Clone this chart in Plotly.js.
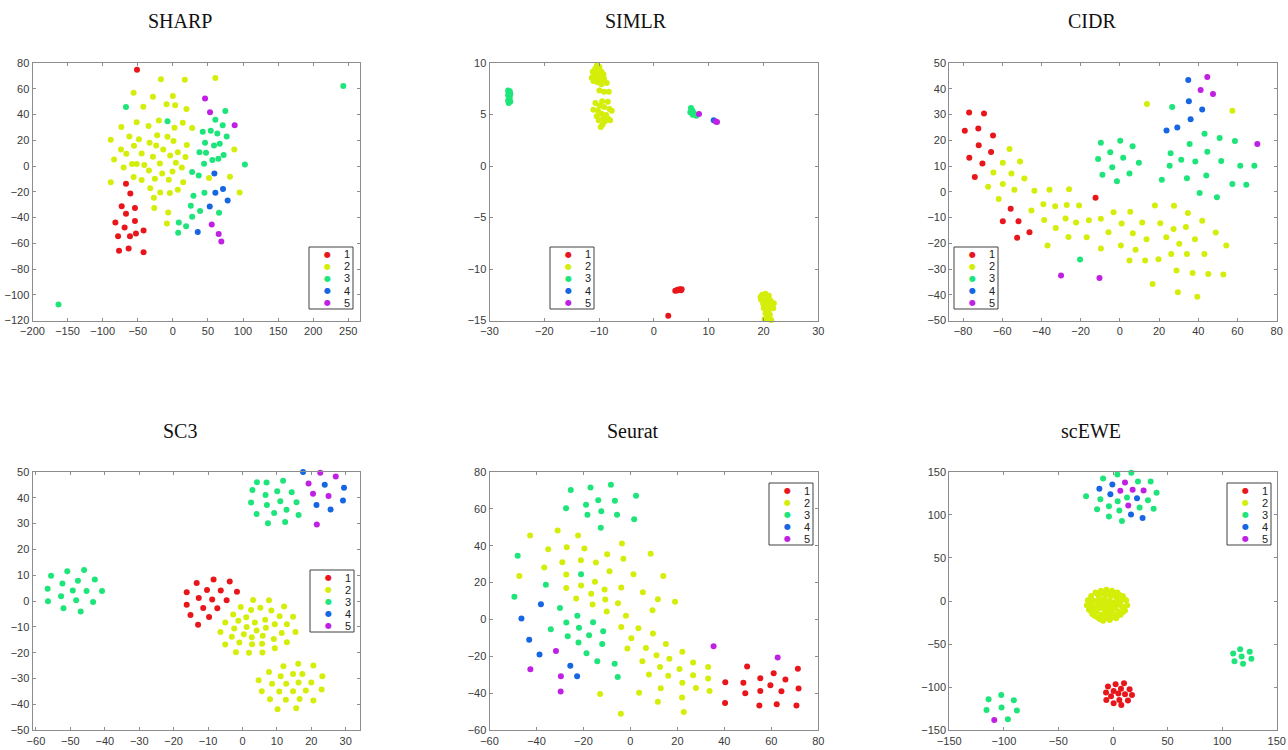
<!DOCTYPE html>
<html><head><meta charset="utf-8">
<script src="https://cdn.plot.ly/plotly-3.0.1.min.js"></script>
<style>html,body{margin:0;padding:0;background:#fff}#chart{width:1288px;height:750px}</style>
</head><body><div id="chart"></div>
<script>
const clusterLabels = ['1','2','3','4','5'];
const clusterColors = ['#e8161b','#d4ee0a','#1de57a','#1665e3','#c01fe4'];
const panelTitles = ['SHARP','SIMLR','CIDR','SC3','Seurat','scEWE'];

// ---------- SHARP ----------
const SHARP_1 = [[-51.1,74.8],[-66.8,-13.8],[-60.6,-21.3],[-72.9,-31.2],[-54.0,-32.7],[-66.8,-37.1],[-81.9,-43.9],[-54.0,-42.8],[-68.7,-47.7],[-41.7,-50.1],[-78.1,-54.5],[-61.1,-54.5],[-52.6,-52.4],[-76.7,-65.9],[-63.0,-64.0],[-41.7,-66.9]];
const SHARP_2 = [[-17.0,67.3],[17.0,67.0],[60.6,68.3],[-55.9,56.9],[-28.4,53.8],[0,54.4],[-42.1,46.1],[-9.0,47.9],[3.3,47.2],[19.4,44.3],[-73.4,30.3],[-51.6,33.9],[-34.6,31.0],[-19.9,35.4],[2.4,29.7],[14.2,33.6],[27.5,29.5],[-88.5,20.4],[-62.0,23.0],[-48.3,20.7],[-22.3,23.8],[-7.6,22.7],[0.9,19.4],[19.9,16.3],[-73.9,12.9],[-55.4,15.8],[-33.1,18.1],[-23.7,16.0],[-13.7,12.9],[-44.5,9.8],[-66.3,9.5],[-28.4,7.2],[7.1,10.6],[-3.8,8.2],[18.0,6.9],[-83.8,5.1],[-58.2,1.5],[-51.6,1.5],[-40.7,0.7],[-18.5,2.0],[4.3,2.5],[-70.1,-1.1],[12.8,-1.1],[-34.1,-3.4],[-15.2,-5.8],[-0.5,-4.2],[-55.9,-8.6],[-25.6,-9.9],[-44.5,-10.9],[-5.7,-10.7],[51.6,-9.4],[81.4,-8.3],[-88.5,-12.7],[14.7,-12.7],[-32.2,-17.2],[-18.0,-20.5],[-4.3,-21.0],[95.2,-20.5],[-27.0,-24.7],[7.1,-18.4],[-26.5,-32.7],[-6.6,-36.1],[-8.5,-44.6],[87.6,12.9]];
const SHARP_3 = [[-66.8,45.8],[-7.6,34.7],[74.8,42.7],[60.6,36.0],[71.0,31.6],[42.6,26.6],[54.0,27.4],[63.4,25.3],[76.7,23.0],[45.9,18.1],[58.7,16.0],[66.8,17.3],[37.9,10.6],[47.3,10.3],[72.4,8.5],[56.3,4.6],[64.9,5.6],[44.5,1.8],[102.7,1.2],[27.5,-4.7],[36.9,-7.3],[29.4,-23.1],[45.0,-20.8],[25.6,-30.9],[38.8,-35.0],[27.5,-39.4],[65.8,-36.3],[8.5,-43.8],[18.9,-46.7],[7.6,-51.9],[-162.9,-107.6],[242.9,62.1]];
const SHARP_4 = [[59.2,-5.8],[71.5,-17.9],[60.6,-20.8],[78.1,-26.7],[52.6,-31.4],[35.5,-51.3]];
const SHARP_5 = [[45.9,52.5],[53.0,41.7],[88.1,31.6],[55.4,-45.4],[65.3,-52.9],[69.1,-58.6]];

// ---------- SIMLR ----------
const SIMLR_1 = [[2.62,-14.55],[3.90,-12.12],[4.33,-12.02],[4.70,-11.96],[5.06,-11.96],[4.21,-12.09],[4.94,-12.06]];
const SIMLR_2 = [[-10.43,9.74],[-9.94,9.61],[-10.73,9.42],[-10.12,9.29],[-11.16,9.16],[-10.43,9.03],[-9.57,9.16],[-10.91,8.83],[-10.06,8.77],[-9.21,8.90],[-11.34,8.58],[-10.55,8.51],[-9.82,8.38],[-9.09,8.45],[-11.04,8.25],[-8.60,8.06],[-10.30,8.12],[-9.57,7.93],[-9.94,7.34],[-9.09,7.22],[-8.23,7.22],[-10.67,6.11],[-9.45,6.28],[-8.41,6.24],[-9.94,5.85],[-9.09,5.73],[-11.04,5.47],[-10.18,5.34],[-8.11,5.53],[-7.68,5.37],[-9.57,5.08],[-8.72,4.95],[-10.43,4.82],[-9.21,4.66],[-8.35,4.59],[-10.06,4.43],[-8.96,4.33],[-7.99,4.43],[-9.39,4.01],[-9.70,3.78],
  [19.76,-12.51],[20.37,-12.41],[20.98,-12.60],[19.57,-12.99],[20.55,-12.93],[21.28,-13.06],[19.94,-13.38],[20.79,-13.48],[21.59,-13.57],[20.06,-13.80],[20.98,-13.96],[21.77,-13.80],[20.37,-14.29],[21.16,-14.45],[20.67,-14.77],[20.18,-14.87],[21.40,-14.94],[19.45,-12.73],[21.89,-13.32],[20.91,-13.25]];
const SIMLR_3 = [[-26.6,7.34],[-26.3,7.25],[-26.5,7.09],[-26.2,6.99],[-26.6,6.86],[-26.3,6.70],[-26.4,6.50],[-26.6,6.37],[-26.2,6.27],[-26.5,6.11],
  [6.77,5.63],[7.01,5.40],[6.65,5.21],[7.26,5.14],[7.74,4.88],[7.07,4.98]];
const SIMLR_4 = [[10.91,4.43]];
const SIMLR_5 = [[8.23,5.05],[11.28,4.33],[11.52,4.27]];

// ---------- CIDR ----------
const CIDR_1 = [[-76.9,30.8],[-69.3,30.4],[-79.1,23.7],[-72.2,24.6],[-64.7,21.8],[-72.0,18.1],[-65.7,15.4],[-76.8,13.2],[-70.1,11.0],[-74.0,5.7],[-55.7,-6.6],[-59.7,-11.5],[-51.7,-11.5],[-46.1,-15.7],[-52.4,-17.9],[-12.4,-2.3]];
const CIDR_2 = [[-56.3,16.6],[-59.7,11.3],[-50.9,11.7],[-64.5,7.5],[-55.3,7.1],[-48.7,5.1],[-67.2,1.9],[-59.7,3.0],[-53.8,0.8],[-43.6,0.4],[-35.9,0.8],[-25.9,1.0],[-61.8,-2.8],[-45.1,-7.3],[-39.0,-4.9],[-33.0,-5.6],[-27.1,-5.1],[-20.8,-5.3],[-38.6,-11.0],[-32.7,-14.1],[-27.7,-10.4],[-22.3,-11.9],[-15.8,-11.1],[-26.2,-17.6],[-16.9,-17.7],[-36.9,-20.9],[-9.7,-10.5],[-5.8,-15.7],[-3.2,-8.0],[0.9,-12.3],[5.3,-7.8],[6.6,-16.1],[-9.7,-22.0],[0.5,-20.9],[8.0,-22.5],[4.9,-26.7],[11.4,-11.9],[13.6,-18.4],[12.9,-26.7],[17.9,-5.3],[20.6,-12.2],[19.7,-26.2],[23.7,-17.7],[26.2,-24.2],[27.4,-14.5],[27.6,-5.4],[30.3,-20.2],[28.9,-30.6],[33.7,-13.7],[34.7,-8.3],[34.2,-24.2],[37.1,-31.6],[38.3,-18.4],[42.0,-11.3],[43.1,-24.2],[45.1,-31.9],[48.9,-15.8],[52.8,-32.1],[54.3,-20.9],[16.7,-35.8],[29.6,-39.0],[39.5,-40.8],[13.8,34.1],[57.4,31.5]];
const CIDR_3 = [[-9.7,19.0],[0.2,19.8],[6.5,17.7],[-11.1,12.7],[-4.9,15.3],[1.7,13.2],[9.7,11.3],[-3.9,9.5],[-8.9,6.6],[4.9,7.1],[-1.5,4.1],[-20.3,-26.3],[26.7,32.9],[25.9,15.0],[25.4,10.1],[31.3,12.4],[35.6,18.5],[38.5,11.7],[43.2,22.5],[44.6,15.5],[50.9,20.9],[51.7,11.9],[58.7,19.7],[61.4,10.1],[68.6,10.1],[21.4,4.7],[34.2,5.2],[44.1,6.3],[40.7,-0.5],[49.5,-2.1],[57.4,3.0],[64.5,2.7]];
const CIDR_4 = [[34.9,43.4],[35.2,35.1],[42.0,31.9],[36.1,28.2],[29.3,25.0],[23.8,23.8]];
const CIDR_5 = [[44.6,44.6],[41.2,39.5],[47.5,38.0],[70.1,18.5],[-30.0,-32.5],[-10.4,-33.5]];

// ---------- SC3 ----------
const SC3_1 = [[-13.3,7.0],[-8.4,8.3],[-3.7,7.6],[-16.2,3.4],[-10.3,4.3],[-6.3,4.1],[-1.6,3.6],[-12.7,1.2],[-8.8,0.6],[-4.6,0.3],[-16.2,-1.4],[-11.4,-2.7],[-7.3,-2.8],[-15.1,-5.4],[-9.7,-6.2],[-12.9,-9.2]];
const SC3_2 = [[3.1,0.4],[7.7,0.3],[-0.5,-2.3],[5.2,-2.6],[12.1,-2.1],[-2.7,-5.2],[2.5,-3.5],[8.4,-3.7],[10.8,-5.9],[14.7,-6.1],[1.1,-6.3],[-5.0,-8.3],[-1.2,-7.6],[3.6,-8.3],[6.6,-7.2],[9.4,-9.0],[12.9,-9.0],[-2.4,-10.6],[1.2,-10.0],[4.1,-11.4],[0.4,-12.8],[6.8,-10.3],[11.4,-12.4],[15.4,-12.0],[-6.4,-12.0],[-3.1,-13.8],[2.7,-14.0],[5.9,-13.4],[9.1,-14.7],[-5.0,-16.8],[-0.9,-16.0],[2.8,-16.7],[5.7,-16.5],[12.9,-15.9],[1.9,-20.0],[5.8,-19.9],[9.4,-18.3],[-1.9,-19.8],
  [11.9,-25.2],[16.2,-24.3],[20.6,-24.9],[7.7,-27.4],[17.4,-28.2],[23.2,-29.1],[11.1,-29.1],[14.7,-28.2],[4.7,-30.6],[8.6,-32.0],[12.7,-32.0],[16.3,-31.5],[20.0,-31.5],[5.6,-34.9],[10.7,-35.0],[14.7,-34.9],[18.4,-34.6],[23.0,-34.2],[8.0,-38.0],[12.6,-38.2],[16.6,-37.9],[20.6,-38.5],[10.2,-41.9],[15.6,-41.5]];
const SC3_3 = [[-55.6,9.8],[-50.9,11.5],[-46.0,12.0],[-52.3,6.8],[-47.8,7.9],[-42.9,8.3],[-56.6,4.8],[-49.3,4.1],[-45.3,3.9],[-40.8,3.9],[-52.7,1.9],[-48.3,0.3],[-43.4,-0.4],[-56.5,-0.1],[-52.0,-2.8],[-47.0,-4.0],
  [4.2,46.0],[7.0,45.9],[11.8,46.5],[2.9,43.0],[10.1,42.5],[14.3,42.1],[6.7,41.0],[11.0,38.6],[15.7,38.2],[2.5,38.1],[7.1,37.2],[12.8,35.3],[4.1,33.7],[9.2,34.1],[16.3,33.3],[7.4,30.1],[12.4,30.6]];
const SC3_4 = [[17.6,49.9],[23.9,45.0],[29.5,43.8],[21.5,37.2],[29.2,38.9],[25.6,35.4]];
const SC3_5 = [[22.6,49.6],[27.1,48.2],[19.2,45.5],[20.5,41.5],[25.0,40.6],[21.6,29.6]];

// ---------- Seurat ----------
const SEURAT_1 = [[49.7,-25.5],[71.3,-26.6],[40.4,-34.0],[48.1,-34.2],[55.3,-31.8],[61.0,-29.1],[66.0,-32.5],[59.6,-35.6],[55.3,-38.7],[48.9,-39.9],[64.3,-38.9],[71.6,-37.4],[40.3,-45.2],[54.9,-46.6],[62.3,-45.9],[70.7,-46.6]];
const SEURAT_2 = [[-42.7,45.5],[-31.0,48.2],[-22.3,45.5],[-35.0,38.1],[-27.1,39.2],[-19.6,38.5],[-3.6,41.2],[-36.7,28.2],[-29.0,31.0],[-21.1,32.1],[-14.7,30.9],[-9.9,35.4],[-3.0,32.9],[8.6,35.6],[-47.3,23.5],[-27.3,24.4],[-8.9,26.2],[1.3,24.5],[14.0,23.6],[-27.3,17.1],[-21.0,18.4],[-15.1,20.4],[-11.0,16.2],[-3.9,17.3],[5.3,14.8],[-23.1,11.4],[-16.7,13.9],[-10.7,10.8],[-16.1,8.1],[-10.1,4.3],[-5.3,8.8],[11.7,11.0],[19.0,9.6],[9.4,5.0],[-1.9,2.1],[-3.9,-4.0],[3.4,-4.7],[0.4,-10.1],[9.6,-7.6],[-1.3,-15.7],[6.6,-15.4],[15.1,-13.2],[11.1,-19.4],[16.6,-21.3],[22.1,-17.5],[5.1,-22.6],[12.6,-25.7],[20.9,-26.8],[26.7,-23.3],[33.1,-25.7],[7.9,-29.8],[16.1,-30.5],[22.1,-34.3],[26.7,-30.2],[33.1,-32.0],[27.9,-37.1],[33.7,-38.7],[12.9,-37.2],[3.7,-39.6],[-12.9,-40.3],[22.0,-42.3],[11.7,-44.6],[22.7,-50.1],[-4.1,-51.0]];
const SEURAT_3 = [[-25.4,70.2],[-17.0,71.5],[-8.3,73.0],[2.4,67.0],[-13.7,64.6],[-6.6,64.3],[-27.4,60.3],[-18.9,62.1],[-12.4,58.7],[-18.3,56.7],[-5.7,56.7],[1.6,54.3],[-12.6,49.7],[-48.0,34.5],[-49.4,12.3],[-36.0,18.8],[-21.0,24.5],[-30.0,6.3],[-33.9,-5.3],[-27.3,-1.6],[-22.6,2.0],[-26.7,-9.1],[-21.9,-4.4],[-15.9,-1.5],[-11.6,-6.3],[-17.6,-8.5],[-22.1,-12.5],[-12.0,-13.2],[-18.7,-18.3],[-14.1,-22.6],[-6.7,-24.0],[-5.4,-31.1]];
const SEURAT_4 = [[-38.1,8.3],[-46.4,0.5],[-43.1,-10.9],[-38.7,-19.0],[-25.6,-25.1],[-22.7,-30.7]];
const SEURAT_5 = [[-31.7,-17.0],[-42.6,-26.9],[-29.6,-30.7],[-29.7,-39.0],[35.4,-14.5],[62.7,-20.6]];

// ---------- scEWE ----------
const SCEWE_1 = [[-4.6,-99.2],[2.4,-96.5],[10.1,-95.3],[-6.4,-106.2],[0.6,-104.3],[7.3,-101.9],[15.2,-102.3],[-1.8,-110.5],[4.9,-107.4],[11.0,-108.1],[17.4,-108.9],[-6.1,-114.7],[5.8,-114.7],[13.7,-115.5],[0.6,-118.6],[7.6,-120.5]];
const SCEWE_2 = [[-6,13],[-1,12],[4,10],[9,6],[12,1],[13,-5],[11,-11],[7,-16],[3,-20],[-3,-22],[-9,-23],[-14,-19],[-19,-15],[-22,-10],[-24,-5],[-23,1],[-20,6],[-16,10],[-11,12],[-7,7],[-2,6],[3,4],[7,0],[8,-6],[5,-12],[0,-15],[-5,-17],[-11,-16],[-15,-12],[-18,-6],[-17,0],[-13,5],[-8,2],[-3,1],[1,-2],[2,-8],[-2,-11],[-7,-12],[-11,-8],[-13,-3],[-9,-2],[-5,-6],[-4,-3],[-6,-9],[-10,-5],[-1,-5],
  [-4,10],[1,9],[6,7],[10,3],[10,-8],[9,-13],[4,-17],[-1,-19],[-7,-20],[-12,-21],[-17,-17],[-20,-12],[-21,-2],[-20,3],[-14,8],[-9,9],[-15,-8],[-8,-15],[0,-9],[4,-4],[-3,-14],[-12,1],[5,1],[-20,-8]];
const SCEWE_3 = [[-9.1,142.2],[4.0,146.9],[16.8,148.8],[22.9,138.8],[34.5,138.8],[-24.7,121.7],[-11.6,118.2],[4.3,115.9],[12.8,120.2],[32.0,117.1],[39.9,125.6],[-14.6,106.6],[-3.7,110.1],[5.8,105.0],[24.4,108.5],[37.2,107.0],[-3.7,98.1],[8.2,93.0],
  [-102.4,-108.9],[-114.0,-114.0],[-90.9,-115.1],[-115.9,-126.4],[-102.1,-123.6],[-88.1,-127.1],[-96.3,-137.2],
  [116.5,-55.8],[110.1,-60.9],[125.3,-58.9],[117.9,-64.3],[111.3,-69.8],[126.8,-67.1],[119.2,-72.9]];
const SCEWE_4 = [[-12.5,130.2],[-0.6,135.3],[-2.4,124.0],[22.0,119.4],[16.5,100.4],[27.1,96.5]];
const SCEWE_5 = [[11.0,137.6],[6.7,127.9],[18.0,129.1],[28.0,128.3],[14.0,110.9],[-108.8,-138.0]];

const panelData = [
  [SHARP_1,SHARP_2,SHARP_3,SHARP_4,SHARP_5],
  [SIMLR_1,SIMLR_2,SIMLR_3,SIMLR_4,SIMLR_5],
  [CIDR_1,CIDR_2,CIDR_3,CIDR_4,CIDR_5],
  [SC3_1,SC3_2,SC3_3,SC3_4,SC3_5],
  [SEURAT_1,SEURAT_2,SEURAT_3,SEURAT_4,SEURAT_5],
  [SCEWE_1,SCEWE_2,SCEWE_3,SCEWE_4,SCEWE_5]
];
const xRanges = [[-200,266],[-30,30],[-87,80],[-61,34],[-60,80],[-150,150]];
const xTicks  = [50,10,20,10,20,50];
const yRanges = [[-120,80],[-15,10],[-50,50],[-50,50],[-60,80],[-150,150]];
const yTicks  = [20,5,10,10,20,50];

// ---------- layout geometry (pixels in a 1288x750 figure) ----------
const W = 1288, H = 750;
const colPx = [[32.5,359.5],[489.5,818.3],[949.3,1276.7]];
const rowPx = [[63,320.5],[471.8,730.3]];
const titlePx = [[180,21],[636,21],[1092,21],[180,431],[633,431],[1091,431]];
const legendPx = [[309,247],[550,247],[954,247],[310,570],[769,483],[1227,483]];

const traces = [];
const layout = {
  width: W, height: H,
  margin: {l:0,r:0,t:0,b:0},
  paper_bgcolor: '#ffffff', plot_bgcolor: '#ffffff',
  showlegend: false,
  shapes: [], annotations: [],
  font: {family: 'Liberation Sans, Arial, sans-serif', size: 11, color: '#333'}
};

const tickFont = {family: 'Liberation Sans, Arial, sans-serif', size: 11, color: '#3a3a3a'};
const axisCommon = {
  showline: true, mirror: 'ticks', linecolor: '#8c8c8c', linewidth: 1,
  ticks: 'inside', ticklen: 3, tickcolor: '#8c8c8c', tickwidth: 1,
  showgrid: false, zeroline: false, tickfont: tickFont, fixedrange: true
};

for (let p = 0; p < 6; p++) {
  const col = p % 3, row = Math.floor(p / 3);
  const sfx = p === 0 ? '' : String(p + 1);
  const xa = 'xaxis' + sfx, ya = 'yaxis' + sfx;
  layout[xa] = Object.assign({}, axisCommon, {
    domain: [colPx[col][0] / W, colPx[col][1] / W],
    range: xRanges[p], tick0: 0, dtick: xTicks[p], anchor: 'y' + sfx
  });
  layout[ya] = Object.assign({}, axisCommon, {
    domain: [1 - rowPx[row][1] / H, 1 - rowPx[row][0] / H],
    range: yRanges[p], tick0: 0, dtick: yTicks[p], anchor: 'x' + sfx
  });
  panelData[p].forEach((pts, c) => {
    traces.push({
      type: 'scatter', mode: 'markers',
      name: clusterLabels[c],
      x: pts.map(d => d[0]), y: pts.map(d => d[1]),
      xaxis: 'x' + sfx, yaxis: 'y' + sfx,
      marker: {color: clusterColors[c], size: 6, line: {width: 0}},
      cliponaxis: false, hoverinfo: 'skip'
    });
  });
  // title
  layout.annotations.push({
    xref: 'paper', yref: 'paper', x: titlePx[p][0] / W, y: 1 - titlePx[p][1] / H,
    xanchor: 'center', yanchor: 'middle', showarrow: false,
    text: panelTitles[p],
    font: {family: 'Liberation Serif, Times New Roman, serif', size: 20, color: '#111'}
  });
  // legend box
  const [lx, ly] = legendPx[p];
  layout.shapes.push({
    type: 'rect', xref: 'paper', yref: 'paper', layer: 'above',
    x0: lx / W, x1: (lx + 44) / W, y0: 1 - ly / H, y1: 1 - (ly + 62) / H,
    line: {color: '#404040', width: 1}, fillcolor: '#ffffff'
  });
  clusterLabels.forEach((lab, c) => {
    const yy = 1 - (ly + 7.5 + c * 12) / H;
    layout.annotations.push({
      xref: 'paper', yref: 'paper', x: (lx + 18.5) / W, y: yy,
      xanchor: 'center', yanchor: 'middle', showarrow: false,
      text: '\u25CF', font: {family: 'DejaVu Sans', size: 8, color: clusterColors[c]}
    });
    layout.annotations.push({
      xref: 'paper', yref: 'paper', x: (lx + 38) / W, y: yy,
      xanchor: 'center', yanchor: 'middle', showarrow: false,
      text: lab, font: {family: 'Liberation Sans, Arial, sans-serif', size: 11, color: '#222'}
    });
  });
}

Plotly.newPlot('chart', traces, layout, {staticPlot: true, displayModeBar: false});
</script>
</body></html>
